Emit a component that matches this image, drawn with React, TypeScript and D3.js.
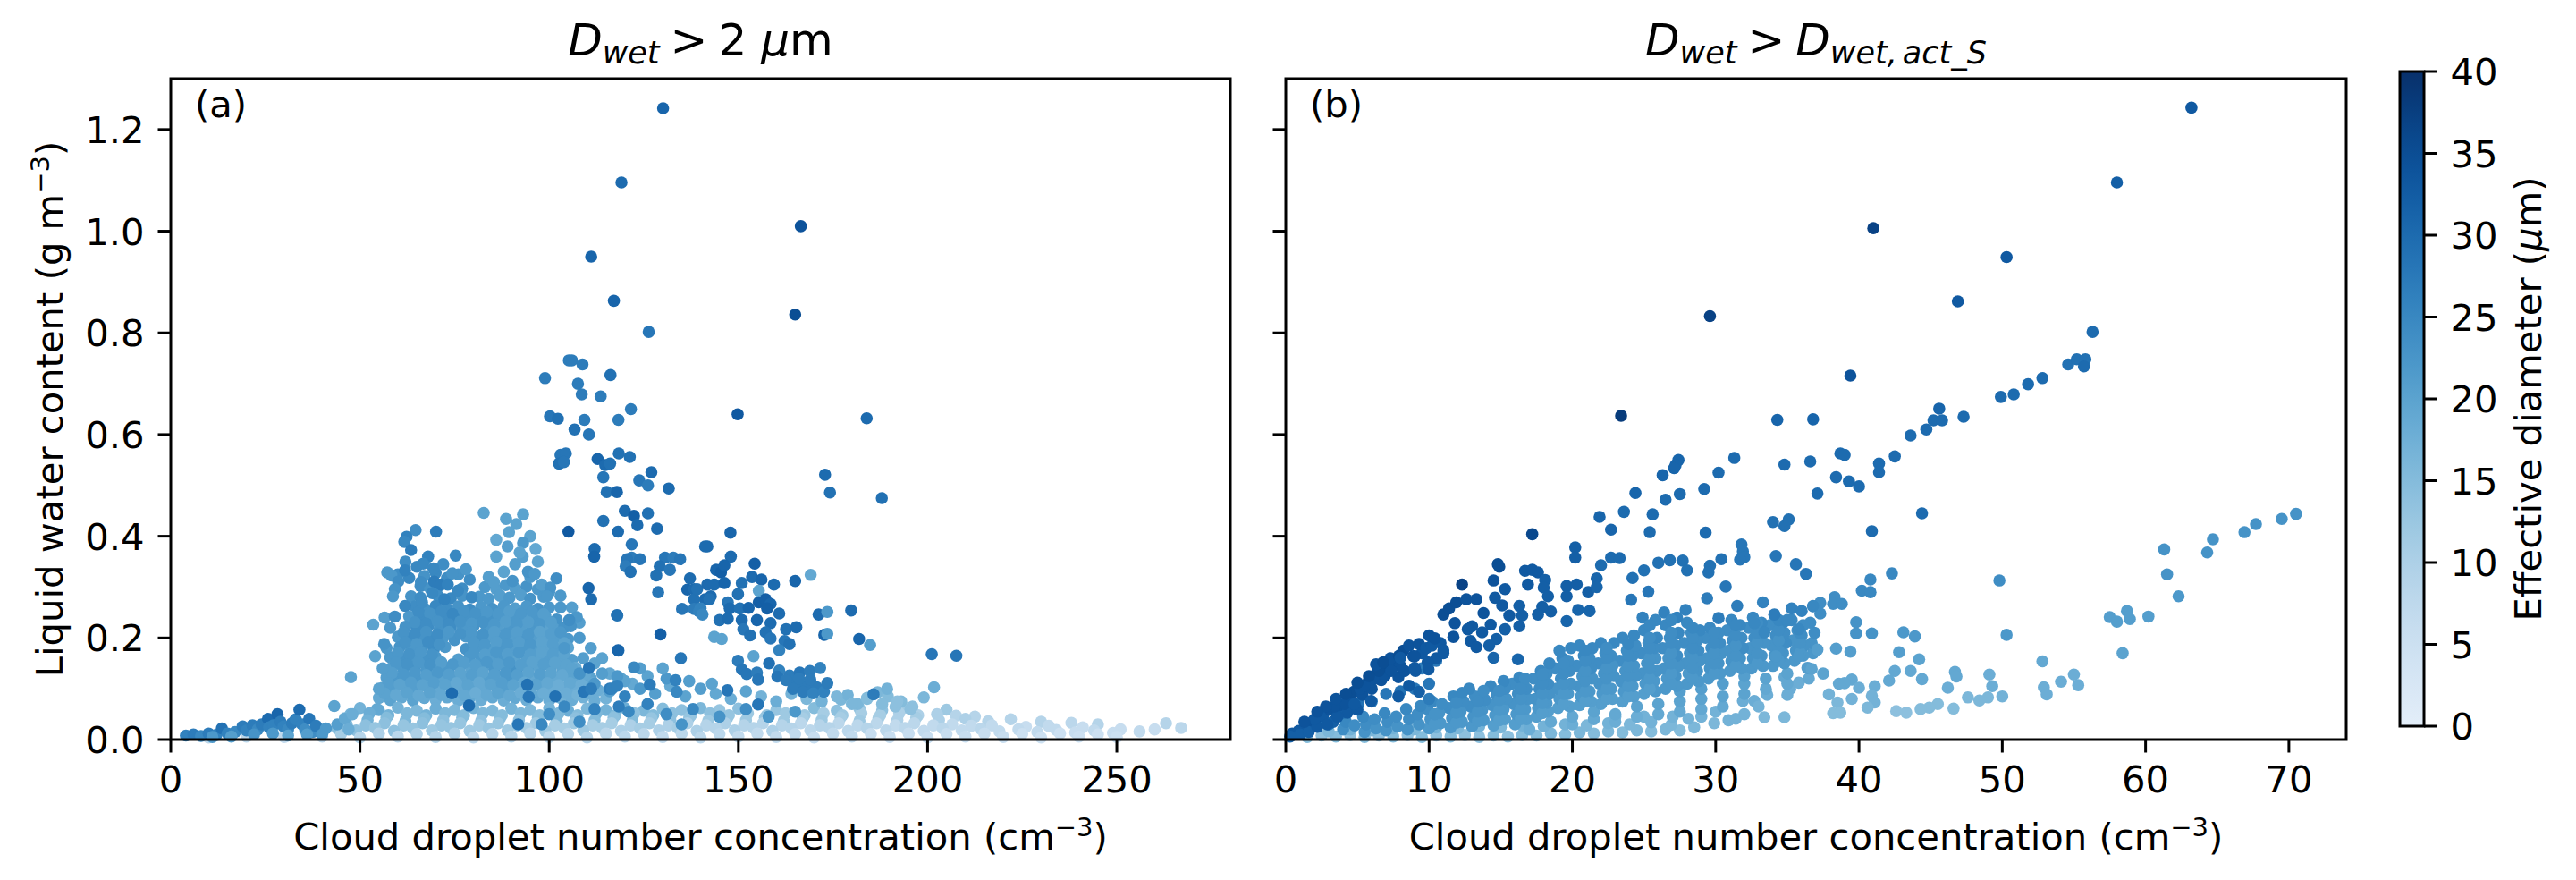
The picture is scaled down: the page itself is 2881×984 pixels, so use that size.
import * as d3 from 'd3';

// each point: [droplet number conc. (cm-3), liquid water content (g m-3), effective diameter (um)]
type Pt = [number, number, number];

// ---------- panel (a): D_wet > 2 um ----------
const aMid: Pt[] = [
  [66,0.302,24],[68.5,0.298,23],[71,0.303,25],[77,0.297,24],[83,0.300,22],[86,0.296,21],[88.5,0.304,22],[91,0.298,21],[94,0.301,23],[97,0.296,22],
  [63.5,0.282,23],[66,0.279,24],[70.5,0.284,24],[74,0.278,25],[77,0.283,23],[81.5,0.281,22],[84,0.277,22],[87,0.283,21],[89.5,0.279,22],[92.5,0.284,21],[95,0.277,23],[98.5,0.281,22],
  [64.5,0.262,24],[67,0.258,23],[70,0.263,25],[73,0.257,24],[76,0.262,23],[79,0.256,24],[82,0.261,22],[85,0.257,23],[88,0.263,22],[91,0.258,21],[94,0.262,22],[97,0.257,23],[100,0.26,22],
  [63,0.242,22],[66,0.238,24],[69,0.243,23],[72,0.237,24],[75,0.242,25],[78,0.239,23],[81,0.244,22],[84,0.238,23],[87,0.242,22],[90,0.237,22],[93,0.243,21],[96,0.238,22],[99,0.242,21],[102,0.236,23],
  [62,0.222,23],[65,0.218,24],[68,0.223,24],[71,0.217,23],[74,0.222,24],[77,0.218,22],[80,0.223,23],[83.5,0.218,22],[86.5,0.223,21],[89.5,0.217,22],[92.5,0.222,21],[95.5,0.218,22],[98.5,0.222,20],[101.5,0.217,21],[104,0.221,23],
  [60,0.202,22],[63,0.198,24],[66,0.203,23],[69,0.197,24],[72,0.201,22],[75,0.196,23],[78,0.203,22],[81,0.198,23],[84,0.202,21],[87,0.197,22],[90,0.203,21],[93,0.197,22],[96,0.202,21],[99,0.197,20],[102,0.202,21],[105,0.198,22],
  [60.5,0.182,23],[63.5,0.178,22],[66.5,0.183,23],[69.5,0.177,24],[72.5,0.182,22],[78,0.178,23],[81,0.183,22],[84,0.177,21],[87,0.182,22],[90,0.178,21],[93,0.183,22],[96,0.177,21],[99,0.182,20],[102,0.178,21],[105,0.181,20],
  [58,0.162,22],[61,0.158,23],[64,0.163,22],[67,0.157,23],[70,0.162,22],[76,0.158,21],[79,0.163,22],[82,0.157,22],[85,0.162,21],[88,0.158,22],[91,0.163,20],[94,0.157,21],[97,0.162,20],[100,0.158,21],[103,0.161,20],[106,0.157,21],
  [58.5,0.142,21],[61.5,0.138,22],[64.5,0.143,23],[67.5,0.137,22],[70.5,0.142,21],[73.5,0.138,22],[76.5,0.143,21],[79.5,0.137,20],[82.5,0.142,21],[85.5,0.138,22],[88.5,0.143,21],[91.5,0.137,23],[94.5,0.142,21],[97.5,0.138,20],[100.5,0.143,21],[103.5,0.137,20],[107,0.141,19],
  [57,0.122,21],[60,0.118,22],[63,0.123,21],[66,0.117,22],[69,0.122,21],[72,0.118,20],[75,0.123,21],[78,0.117,20],[81,0.122,20],[84,0.118,21],[87,0.123,20],[90,0.117,22],[93,0.122,20],[96,0.118,19],[99,0.123,20],[102,0.117,19],[105,0.122,20],[108,0.118,19],[111,0.121,20],
  [56,0.102,20],[59,0.098,21],[62,0.103,20],[65,0.097,21],[68,0.102,20],[71,0.098,19],[74,0.103,20],[77,0.097,19],[80,0.102,20],[83,0.098,19],[86,0.103,20],[89,0.097,21],[92,0.102,19],[95,0.098,20],[98,0.103,19],[101,0.097,18],[104,0.102,19],[107,0.098,18],[110,0.101,19],[113,0.097,18],
  [55,0.082,19],[58,0.078,20],[61,0.083,19],[64,0.077,20],[67,0.082,19],[70,0.078,18],[73,0.083,19],[76,0.077,18],[79,0.082,19],[82,0.078,18],[85,0.083,19],[88,0.077,18],[91,0.082,19],[94,0.078,18],[97,0.083,19],[100,0.077,18],[103,0.082,17],[106,0.078,18],[109,0.083,17],[112,0.077,18],[115,0.081,17],
];

// points lying between the rows above, where the cluster is solid
const aMidFill: Pt[] = [
  [65.5,0.251,24],[68.5,0.248,23],[71.5,0.252,24],[74.5,0.247,25],[77.5,0.252,23],[80.5,0.248,23],[83.5,0.251,22],[86.5,0.247,22],[89.5,0.252,21],[92.5,0.248,22],[95.5,0.251,22],[98.5,0.247,21],
  [64.5,0.231,23],[67.5,0.228,24],[70.5,0.232,23],[73.5,0.227,24],[76.5,0.232,23],[79.5,0.228,22],[82.5,0.231,23],[85.5,0.227,22],[88.5,0.232,21],[91.5,0.228,22],[94.5,0.231,21],[97.5,0.227,22],[100.5,0.231,21],
  [61.5,0.211,23],[64.5,0.208,24],[67.5,0.212,23],[70.5,0.207,24],[73.5,0.212,22],[76.5,0.208,23],[79.5,0.211,22],[82.5,0.207,23],[85.5,0.212,21],[88.5,0.208,22],[91.5,0.211,21],[94.5,0.207,22],[97.5,0.212,20],[100.5,0.208,21],[103,0.211,22],
  [62,0.191,23],[65,0.188,22],[68,0.192,24],[71,0.187,23],[80,0.191,22],[83,0.187,22],[86,0.192,21],[89,0.188,22],[92,0.191,21],[95,0.187,22],[98,0.192,20],[101,0.188,21],[104,0.19,20],
  [60,0.171,22],[63,0.168,23],[66,0.172,22],[69,0.167,23],[80,0.171,22],[83,0.167,21],[86,0.172,22],[89,0.168,21],[92,0.171,22],[95,0.167,21],[98,0.172,20],[101,0.168,21],[104,0.17,20],
  [59.5,0.151,22],[62.5,0.148,23],[65.5,0.152,22],[68.5,0.147,23],[71.5,0.152,21],[74.5,0.148,22],[77.5,0.151,21],[80.5,0.147,21],[83.5,0.152,22],[86.5,0.148,21],[89.5,0.151,22],[92.5,0.147,21],[95.5,0.152,20],[98.5,0.148,21],[101.5,0.151,20],[104.5,0.147,20],
  [58.5,0.131,21],[61.5,0.128,22],[64.5,0.132,22],[67.5,0.127,21],[70.5,0.132,22],[73.5,0.128,21],[76.5,0.131,20],[79.5,0.127,21],[82.5,0.132,20],[85.5,0.128,21],[88.5,0.131,22],[91.5,0.127,21],[94.5,0.132,20],[97.5,0.128,21],[100.5,0.131,20],[103.5,0.127,19],[106.5,0.131,20],[109.5,0.128,19],
  [57.5,0.111,21],[60.5,0.108,20],[63.5,0.112,21],[66.5,0.107,20],[69.5,0.112,21],[72.5,0.108,20],[75.5,0.111,19],[78.5,0.107,20],[81.5,0.112,19],[84.5,0.108,20],[87.5,0.111,21],[90.5,0.107,20],[93.5,0.112,19],[96.5,0.108,20],[99.5,0.111,19],[102.5,0.107,18],[105.5,0.111,19],[108.5,0.108,18],[111.5,0.111,19],
  [56.5,0.091,20],[59.5,0.088,19],[62.5,0.092,20],[65.5,0.087,19],[68.5,0.092,20],[71.5,0.088,19],[74.5,0.091,18],[77.5,0.087,19],[80.5,0.092,18],[83.5,0.088,19],[86.5,0.091,20],[89.5,0.087,19],[92.5,0.092,18],[95.5,0.088,19],[98.5,0.091,18],[101.5,0.087,18],[104.5,0.091,18],[107.5,0.088,17],[110.5,0.091,18],
];

// ragged top and flanks of the main cluster
const aMidEdge: Pt[] = [
  [60,0.325,24],[63,0.318,25],[67,0.322,23],[70,0.328,25],[73,0.318,24],[76,0.325,23],[79,0.315,24],[65,0.34,25],[72,0.345,24],[68,0.36,26],[62,0.35,24],[78,0.335,22],[84,0.32,21],[88,0.33,20],[91,0.345,21],[95,0.32,22],[86,0.36,20],[93,0.36,21],[97,0.35,20],[89,0.38,21],[95,0.4,20],
  [55,0.1,20],[56,0.14,21],[57,0.18,22],[58,0.22,22],[56.5,0.24,21],[54.5,0.06,19],
  [106,0.14,20],[109,0.16,21],[112,0.15,20],[104,0.18,22],[108,0.2,22],[111,0.18,21],[114,0.16,20],[116,0.13,19],[119,0.12,20],[122,0.11,19],[106,0.26,21],[103,0.26,22],[108,0.23,21],[100,0.29,22],
];

const aLow: Pt[] = [
  [50,0.062,17],[55,0.058,19],[60,0.063,17],[65,0.057,16],[70,0.061,18],[75,0.058,16],[80,0.062,17],[85,0.057,16],[90,0.061,17],[95,0.058,16],[100,0.062,17],[105,0.057,18],[110,0.061,16],[115,0.058,17],[120,0.062,18],[125,0.057,16],[130,0.061,15],[135,0.058,14],[140,0.062,16],[145,0.058,13],[150,0.061,14],[160,0.058,13],[170,0.062,15],[176,0.057,14],[182,0.061,13],[188,0.058,14],[194,0.063,12],[205,0.059,12],
  [47.5,0.05,17],[52.5,0.052,18],[57.5,0.048,17],[62.5,0.052,16],[67.5,0.048,17],[72.5,0.052,16],[77.5,0.048,15],[82.5,0.052,16],[87.5,0.048,15],[92.5,0.052,16],[97.5,0.048,15],[102.5,0.052,16],[107.5,0.048,15],[112.5,0.052,16],[117.5,0.048,15],[122.5,0.052,14],[127.5,0.048,15],[132.5,0.052,14],[137.5,0.048,13],[142.5,0.052,14],[147.5,0.048,13],[152.5,0.052,12],[157.5,0.048,13],[162.5,0.052,12],[167.5,0.048,12],[172.5,0.052,11],[177.5,0.048,12],[182.5,0.052,11],[187.5,0.048,11],[192.5,0.052,10],[197.5,0.048,10],[202.5,0.05,10],[207.5,0.047,9],[212.5,0.045,9],
  [46,0.042,16],[52,0.038,17],[57,0.043,15],[62,0.037,16],[67,0.042,15],[72,0.038,14],[77,0.043,15],[82,0.037,14],[87,0.042,15],[92,0.038,14],[97,0.043,15],[102,0.037,16],[107,0.042,14],[112,0.038,15],[117,0.043,14],[122,0.037,15],[127,0.042,13],[132,0.038,14],[137,0.043,13],[142,0.037,12],[147,0.042,13],[152,0.038,12],[157,0.043,13],[162,0.037,12],[167,0.042,11],[172,0.038,12],[177,0.043,11],[182,0.037,12],[187,0.042,11],[192,0.038,10],[197,0.043,11],[203,0.038,10],[210,0.041,10],[216,0.036,9],[222,0.040,9],[230,0.035,9],[238,0.033,8],[245,0.030,9],[263,0.032,9],[267,0.023,8],
  [46.5,0.03,15],[51.5,0.028,14],[56.5,0.032,14],[61.5,0.028,13],[66.5,0.032,14],[71.5,0.028,13],[76.5,0.032,13],[81.5,0.028,12],[86.5,0.032,13],[91.5,0.028,12],[96.5,0.032,12],[101.5,0.028,11],[106.5,0.032,12],[111.5,0.028,11],[116.5,0.032,11],[121.5,0.028,10],[126.5,0.032,11],[131.5,0.028,10],[136.5,0.032,10],[141.5,0.028,9],[146.5,0.032,10],[151.5,0.028,9],[156.5,0.032,9],[161.5,0.028,9],[166.5,0.032,8],[171.5,0.028,9],[176.5,0.032,8],[181.5,0.028,8],[186.5,0.032,8],[191.5,0.028,7],[196.5,0.032,8],[201.5,0.028,7],[206.5,0.03,7],[211.5,0.027,7],[217,0.028,7],[226,0.025,6],[232,0.027,7],[241,0.024,6],[251,0.02,6],[260,0.02,6],
  [44,0.022,15],[49,0.018,14],[54,0.023,13],[59,0.017,14],[64,0.022,13],[69,0.018,12],[74,0.023,13],[79,0.017,12],[84,0.022,13],[89,0.018,12],[94,0.023,11],[99,0.017,12],[104,0.022,11],[109,0.018,12],[114,0.023,11],[119,0.017,10],[124,0.022,11],[129,0.018,10],[134,0.023,11],[139,0.017,10],[144,0.022,9],[149,0.018,10],[154,0.023,9],[159,0.017,10],[164,0.022,9],[169,0.018,8],[174,0.023,9],[179,0.017,8],[184,0.022,9],[189,0.018,8],[194,0.023,8],[199,0.017,7],[204,0.022,8],[209,0.018,7],[214,0.021,8],[219,0.016,7],[224,0.02,7],[229,0.015,7],[234,0.019,7],[239,0.014,6],[244,0.018,7],[249,0.013,6],[256,0.016,7],
  [45,0.011,11],[55,0.012,10],[65,0.011,10],[75,0.012,10],[85,0.011,9],[95,0.012,9],[105,0.011,9],[115,0.012,8],[125,0.011,8],[135,0.012,8],[145,0.011,8],[155,0.012,7],[165,0.011,7],[175,0.012,7],[185,0.011,6],[195,0.012,6],[205,0.011,6],[215,0.012,6],[225,0.011,5],[235,0.012,5],[245,0.01,5],
  [10,0.004,8],[20,0.006,8],[30,0.005,7],[40,0.006,8],[50,0.004,9],[60,0.006,8],[70,0.005,9],[80,0.004,8],[90,0.006,9],[100,0.005,8],[110,0.004,9],[120,0.006,8],[130,0.005,7],[140,0.004,8],[150,0.006,7],[160,0.005,7],[170,0.004,6],[180,0.006,7],[190,0.005,6],[200,0.004,6],[210,0.006,6],[220,0.005,6],[230,0.004,5],[240,0.006,5],[250,0.005,5],
  [177.1,0.079,16],[178.9,0.088,17],[181.5,0.07,16],[184,0.082,15],[186.8,0.093,16],[189.5,0.085,15],[191.5,0.065,14],[193,0.075,15],[195.5,0.06,14],
];

const aLowMixed: Pt[] = [
  [112,0.11,22],[116,0.095,21],[120,0.115,20],[124,0.1,22],[128,0.09,21],[132,0.105,19],[136,0.085,20],[140,0.1,21],[144,0.09,19],[148,0.08,18],[152,0.095,20],[156,0.085,17],[160,0.075,18],[164,0.09,17],[168,0.08,16],[172,0.075,17],[176,0.085,16],[180,0.07,16],[184,0.08,15],[188,0.07,15],[192,0.075,14],[196,0.065,14],
  [108,0.13,23],[114,0.13,21],[118,0.125,22],[126,0.125,20],[131,0.12,22],[137,0.115,21],[143,0.11,20],[124,0.14,21],[130,0.14,20],
  [100,0.05,24],[104,0.065,25],[112,0.06,26],[121,0.055,25],[126,0.07,26],[131,0.05,24],[138,0.06,25],[145,0.045,23],[152,0.06,24],[98,0.03,25],[108,0.035,24],[135,0.03,23],[158,0.045,22],[165,0.055,22],
  [74.3,0.091,30],[78.8,0.067,30],[94.2,0.108,29],[94.6,0.084,28],[91.8,0.03,28],[101.6,0.085,29],[110.5,0.141,28],[109.1,0.094,28],[111.1,0.1,27],[116,0.1,27],[116.6,0.1,26],[118.4,0.065,27],[120,0.085,26],[126.6,0.108,27],[133.4,0.117,26],[133.7,0.094,25],[118,0.106,26],
];

const aLeftLow: Pt[] = [
  [4,0.008,26],[6,0.01,27],[8,0.007,25],[10,0.012,27],[12,0.009,26],[13.5,0.022,29],[15,0.012,26],[17,0.015,25],[19,0.026,27],[20,0.018,26],[21.6,0.028,27],[23,0.02,25],[24,0.03,27],[25.7,0.041,30],[26,0.024,26],[27.1,0.028,26],[28.2,0.05,31],[29,0.035,27],[29.8,0.026,26],[31,0.02,25],[32,0.032,27],[33,0.04,26],[34,0.059,30],[34.7,0.03,26],[35.5,0.02,24],[36.6,0.041,28],[37.5,0.015,24],[38.4,0.027,27],[40,0.01,22],[41,0.022,22],[43.2,0.066,20],[44,0.03,21],[46,0.041,19],[47,0.02,18],[48,0.05,18],[11,0.005,22],[16,0.006,21],[22,0.01,23],[27,0.012,22],[31,0.008,20],[36,0.01,21],
];

const aLeftUpper: Pt[] = [
  [82.7,0.446,20],[88.6,0.434,20],[91.3,0.424,20],[89.4,0.408,20],[93.1,0.443,20],[86.0,0.393,19],[93.1,0.387,22],[92.2,0.368,20],[96.4,0.375,19],
  [64.7,0.412,24],[70.1,0.409,27],[62.3,0.399,26],[61.7,0.389,25],[63.5,0.373,27],
  [75.3,0.362,25],[66.7,0.346,25],[69.4,0.337,25],[61.9,0.333,26],[57.2,0.329,22],[58.3,0.323,22],[74.4,0.327,23],
  [60.1,0.311,24],[66.1,0.310,24],[69.6,0.311,27],[71.4,0.305,27],[73.2,0.305,26],[59.2,0.296,23],[58.7,0.282,22],[69.1,0.288,25],[72.3,0.276,26],[75.9,0.293,25],[79.5,0.280,25],[61.9,0.263,25],[66.4,0.270,24],
  [85.4,0.310,21],[90.3,0.312,23],[94.4,0.330,23],[96.2,0.326,22],[98.0,0.305,21],[101.9,0.317,24],[103.0,0.283,22],[100.3,0.299,23],[99.4,0.282,22],
  [53.5,0.226,20],[59.2,0.242,24],[54.0,0.164,20],[56.4,0.188,23],[47.6,0.123,20],[107.3,0.241,22],[105.7,0.223,23],[105.3,0.235,24],
];

const aRight: Pt[] = [
  [103.0,0.560,28],[104.4,0.563,28],[102.6,0.543,29],[103.9,0.546,28],[118.4,0.563,29],[121.3,0.556,29],[112.8,0.552,31],[114.8,0.540,30],[116.1,0.543,29],[114.3,0.516,28],[115.2,0.487,29],[117.9,0.487,31],[127.0,0.526,30],[123.8,0.510,28],[126.1,0.500,27],[131.6,0.494,30],[172.9,0.521,30],[174.2,0.486,29],[187.9,0.475,29],
  [120.0,0.450,30],[122.4,0.440,32],[123.3,0.422,30],[126.1,0.445,29],[128.5,0.415,30],[114.3,0.430,29],[118.2,0.409,30],[105.1,0.409,33],[147.9,0.407,31],[141.8,0.380,30],[148.0,0.360,30],[154.3,0.346,32],
  [121.8,0.384,28],[121.8,0.358,27],[120.6,0.355,28],[124.0,0.355,28],[120.2,0.341,27],[121.5,0.330,29],[112.0,0.375,30],[111.9,0.360,31],[141.2,0.380,30],
  [130.6,0.358,28],[132.8,0.358,27],[134.6,0.355,28],[129.2,0.341,29],[131.9,0.334,28],[128.3,0.323,29],[128.8,0.290,28],[110.4,0.298,31],[111.1,0.276,30],[118,0.244,27],[118.3,0.175,29],
  [137.2,0.317,30],[136.5,0.295,31],[138.3,0.296,30],[141.2,0.276,30],[138.3,0.276,29],[135.1,0.257,28],[138.3,0.257,27],[139.6,0.252,26],
  [117.9,0.245,29],[129.4,0.207,32],[118.2,0.176,31],[134.8,0.160,28],[122.4,0.142,25],
  [144.1,0.334,31],[145.4,0.329,32],[146.3,0.343,31],[139.1,0.296,29],[141.8,0.305,30],[143.6,0.305,30],[146.3,0.308,31],[142.7,0.282,30],[142.3,0.276,29],
  [150.9,0.308,29],[153.6,0.320,30],[156.1,0.315,31],[159.4,0.305,30],[165.0,0.312,31],[169.1,0.324,19],[155.4,0.293,20],
  [149.9,0.286,29],[147.2,0.270,28],[147.7,0.258,30],[150.4,0.258,29],[152.7,0.259,31],[155.4,0.270,32],[157.2,0.276,32],[158.5,0.267,31],[157.6,0.258,32],[160.8,0.248,30],[140.0,0.258,26],[140.5,0.246,25],
  [145.0,0.235,29],[147.2,0.238,30],[150.9,0.235,30],[154.9,0.235,31],[151.3,0.217,28],[153.1,0.205,29],[158.5,0.229,30],[157.2,0.211,29],[158.5,0.199,28],[162.6,0.217,29],[165.3,0.221,30],[162.2,0.194,28],[163.5,0.188,29],[160.8,0.176,26],
  [171.2,0.246,30],[173.5,0.251,22],[179.8,0.254,30],[172.7,0.206,31],[173.5,0.208,22],[181.9,0.198,31],[184.8,0.186,21],[143.6,0.202,20],[145.6,0.198,20],
  [154.0,0.164,20],[158.1,0.150,29],[149.9,0.155,27],[150.9,0.138,28],[152.2,0.129,28],[154.9,0.132,27],[155.2,0.118,28],[160.8,0.136,26],[160.3,0.124,28],
  [163.5,0.126,27],[166.2,0.132,28],[168.9,0.135,27],[171.6,0.141,26],[165.3,0.111,27],[168.0,0.106,27],[170.7,0.103,27],[164.4,0.100,27],[167.1,0.094,27],[169.8,0.091,26],[172.6,0.094,26],[173.5,0.111,27],[162.6,0.117,27],[166,0.120,27],[169,0.118,27],
  [201.1,0.168,28],[207.6,0.165,28],[201.7,0.103,18],[199.0,0.083,16],[185.7,0.089,27],[189.3,0.100,17],[147.1,0.097,28],[155.2,0.069,28],
];

const aHigh: Pt[] = [
  [130.1,1.242,31],[119.1,1.096,30],[166.5,1.010,34],[111.1,0.950,31],[117.1,0.863,31],[165.0,0.836,35],[126.3,0.802,28],
  [105.2,0.746,27],[106.0,0.746,27],[108.8,0.738,27],[98.9,0.711,27],[116.2,0.717,29],[107.6,0.700,27],[108.6,0.679,27],[113.6,0.675,27],[121.6,0.650,27],[100.2,0.636,28],[102.3,0.631,29],[109.3,0.629,27],[118.3,0.629,27],[149.8,0.640,33],[183.9,0.632,30],[106.7,0.610,29],[110.5,0.600,28],
];

// ---------- panel (b): D_wet > D_wet,act_S ----------
const bLow: Pt[] = [
  [1.5,0.005,15],[2.5,0.008,14],[3.5,0.006,15],[4.5,0.009,14],[5.5,0.005,15],[6.5,0.008,14],[7.5,0.006,15],[8.5,0.009,14],[9.5,0.005,15],[10.5,0.008,14],[11.5,0.006,15],[12.5,0.009,14],[13.5,0.005,14],[14.5,0.008,15],[15.5,0.006,14],[16.5,0.009,15],[17.5,0.008,15],[18.5,0.012,16],[19.5,0.01,15],[20.5,0.014,16],[21.5,0.012,15],[22.5,0.016,16],[23.5,0.014,15],[24.5,0.018,16],[25.5,0.016,15],[26.5,0.02,16],[27.5,0.018,15],[28.5,0.024,16],
  [3,0.016,16],[4.5,0.02,17],[6,0.018,16],[7.5,0.022,17],[9,0.02,16],[10.5,0.024,17],[12,0.022,16],[13.5,0.026,17],[15,0.024,16],[16.5,0.028,17],[18,0.026,17],[19.5,0.03,17],[21,0.028,16],[22.5,0.032,17],[24,0.03,16],[25.5,0.034,17],[26.9,0.029,16],[28.1,0.041,17],[29.9,0.032,16],[30.9,0.038,17],[31.4,0.041,17],[31.9,0.076,18],[32.7,0.076,18],[33.0,0.065,17],[33.4,0.044,16],[34.8,0.044,16],[33.6,0.088,18],[34.8,0.123,19],[35.2,0.100,18],[35.8,0.112,18],[35.0,0.088,18],[29,0.045,17],[27,0.045,17],[30,0.055,17],[32,0.05,17],[25,0.045,17],[23,0.045,17],
];

const bMidLow: Pt[] = [
  [17,0.02,18],[18.5,0.035,19],[20,0.03,18],[20,0.045,19],[21.5,0.04,19],[21.5,0.055,20],[23,0.035,18],[23,0.05,19],[24.5,0.045,18],[24.5,0.065,20],[26,0.05,19],[26,0.07,20],[27.5,0.055,19],[27.5,0.075,20],[27.5,0.095,21],[29,0.06,19],[29,0.08,20],[29,0.1,21],[30.5,0.065,19],[30.5,0.085,20],[30.5,0.11,21],[32,0.09,20],[32,0.11,20],[32,0.125,21],[33.5,0.1,19],[33.5,0.12,20],[35,0.11,19],[35,0.13,20],[36.5,0.12,19],[36.5,0.14,20],[37.5,0.13,20],
];

const bMid: Pt[] = [
  [4,0.02,24],[4.2,0.035,25],[5.5,0.015,23],[5.6,0.03,24],[5.4,0.045,25],[7,0.018,23],[7.1,0.035,24],[6.9,0.052,25],[8.5,0.02,23],[8.6,0.04,24],[8.4,0.06,25],
  [10,0.022,22],[10.1,0.04,23],[9.9,0.06,24],[10.2,0.075,25],[11.5,0.024,22],[11.6,0.042,23],[11.4,0.062,24],[11.7,0.085,25],
  [13,0.026,22],[13.1,0.045,23],[12.9,0.065,24],[13.2,0.085,24],[12.8,0.1,25],[14.5,0.028,21],[14.6,0.048,22],[14.4,0.068,23],[14.7,0.088,24],[14.3,0.105,25],
  [16,0.03,21],[16.1,0.05,22],[15.9,0.07,23],[16.2,0.09,24],[15.8,0.11,24],[16.3,0.122,25],[17.5,0.045,21],[17.6,0.062,22],[17.4,0.08,23],[17.7,0.1,24],[17.3,0.12,24],[17.8,0.135,25],
  [19,0.062,21],[19.1,0.08,22],[18.9,0.1,23],[19.2,0.12,24],[18.8,0.14,24],[19.3,0.16,25],[19.1,0.175,25],
  [20.5,0.068,21],[20.6,0.085,22],[20.4,0.105,23],[20.7,0.125,23],[20.3,0.145,24],[20.8,0.165,25],[20.5,0.185,25],
  [22,0.07,21],[22.1,0.09,22],[21.9,0.11,23],[22.2,0.13,23],[21.8,0.15,24],[22.3,0.17,24],[22,0.19,25],
  [23.5,0.075,21],[23.6,0.095,22],[23.4,0.115,23],[23.7,0.135,23],[23.3,0.155,24],[23.8,0.175,24],[23.5,0.2,25],
  [25,0.09,21],[25.1,0.11,22],[24.9,0.13,23],[25.2,0.15,23],[24.8,0.17,24],[25.3,0.19,24],[25,0.215,25],[24.9,0.24,26],
  [26.5,0.1,22],[26.6,0.12,22],[26.4,0.14,23],[26.7,0.16,23],[26.3,0.18,24],[26.8,0.2,24],[26.5,0.225,25],[26.4,0.25,26],
  [28,0.11,22],[28.1,0.13,22],[27.9,0.15,23],[28.2,0.17,23],[27.8,0.19,24],[28.3,0.21,24],[28,0.23,25],[27.9,0.255,26],
  [29.5,0.12,22],[29.6,0.14,23],[29.4,0.16,23],[29.7,0.18,24],[29.3,0.2,24],[29.6,0.22,25],
  [31,0.135,22],[31.1,0.155,23],[30.9,0.175,23],[31.2,0.195,24],[30.8,0.215,24],[31.1,0.235,25],
  [32.5,0.14,22],[32.6,0.16,23],[32.4,0.18,23],[32.7,0.2,24],[32.3,0.22,24],[32.6,0.24,25],
  [34,0.145,22],[34.1,0.165,23],[33.9,0.185,23],[34.2,0.205,24],[33.8,0.225,24],[34.1,0.245,25],
  [35.5,0.155,22],[35.6,0.175,23],[35.4,0.195,23],[35.7,0.215,24],[35.3,0.235,25],
  [36.8,0.17,22],[36.7,0.19,23],[36.9,0.21,24],[36.6,0.23,24],
  [4.8,0.028,24],[6.3,0.022,23],[6.2,0.04,24],[7.8,0.026,23],[7.7,0.045,24],[9.3,0.03,23],[9.2,0.05,24],[9.4,0.066,25],
  [10.8,0.032,22],[10.7,0.052,23],[10.9,0.07,24],[12.3,0.035,22],[12.2,0.055,23],[12.4,0.075,24],[12.3,0.092,25],
  [13.8,0.038,22],[13.7,0.058,23],[13.9,0.078,24],[13.8,0.096,24],[15.3,0.04,21],[15.2,0.06,22],[15.4,0.08,23],[15.3,0.1,24],[15.2,0.115,25],
  [16.8,0.04,21],[16.7,0.06,22],[16.9,0.08,23],[16.8,0.1,24],[16.7,0.12,24],
  [18.3,0.055,21],[18.2,0.072,22],[18.4,0.09,23],[18.3,0.11,24],[18.2,0.13,24],[18.4,0.15,25],
  [19.8,0.065,21],[19.7,0.09,22],[19.9,0.11,23],[19.8,0.135,24],[19.7,0.155,24],[19.9,0.18,25],
  [21.3,0.075,21],[21.2,0.095,22],[21.4,0.12,23],[21.3,0.14,24],[21.2,0.16,24],[21.4,0.18,25],
  [22.8,0.08,21],[22.7,0.1,22],[22.9,0.125,23],[22.8,0.145,23],[22.7,0.165,24],[22.9,0.19,25],
  [24.3,0.085,21],[24.2,0.105,22],[24.4,0.125,23],[24.3,0.145,23],[24.2,0.165,24],[24.4,0.185,24],[24.3,0.205,25],
  [25.8,0.095,22],[25.7,0.115,22],[25.9,0.135,23],[25.8,0.16,23],[25.7,0.18,24],[25.9,0.2,25],[25.8,0.235,25],
  [27.3,0.105,22],[27.2,0.125,23],[27.4,0.145,23],[27.3,0.165,24],[27.2,0.185,24],[27.4,0.21,25],[27.3,0.24,26],
  [28.8,0.115,22],[28.7,0.135,23],[28.9,0.155,23],[28.8,0.175,24],[28.7,0.195,24],[28.9,0.215,25],
  [30.3,0.13,22],[30.2,0.15,23],[30.4,0.17,23],[30.3,0.19,24],[30.2,0.21,24],
  [31.8,0.14,22],[31.7,0.16,23],[31.9,0.18,24],[31.8,0.2,24],[31.7,0.225,25],
  [33.3,0.145,22],[33.2,0.165,23],[33.4,0.19,23],[33.3,0.21,24],[33.2,0.23,25],
  [34.8,0.15,22],[34.7,0.17,23],[34.9,0.19,24],[34.8,0.21,24],[34.7,0.23,25],
  [36.1,0.165,22],[36.2,0.185,23],[36.0,0.205,24],[36.1,0.225,24],
];

// points between the columns above, where the band is solid
const bMidFill: Pt[] = [
  [10.4,0.031,22],[10.4,0.05,23],[11.9,0.033,22],[11.9,0.053,23],[11.9,0.072,24],[13.4,0.036,22],[13.4,0.055,23],[13.4,0.075,24],[14.9,0.038,21],[14.9,0.058,22],[14.9,0.078,23],[14.9,0.096,24],
  [16.4,0.04,21],[16.4,0.06,22],[16.4,0.08,23],[16.4,0.1,24],[17.9,0.052,21],[17.9,0.072,22],[17.9,0.09,23],[17.9,0.11,24],[17.9,0.128,24],
  [19.4,0.07,21],[19.4,0.09,22],[19.4,0.11,23],[19.4,0.13,24],[19.4,0.15,24],[20.9,0.076,21],[20.9,0.095,22],[20.9,0.115,23],[20.9,0.135,23],[20.9,0.155,24],[20.9,0.175,25],
  [22.4,0.08,21],[22.4,0.1,22],[22.4,0.12,23],[22.4,0.14,23],[22.4,0.16,24],[22.4,0.18,24],[23.9,0.085,21],[23.9,0.105,22],[23.9,0.125,23],[23.9,0.145,23],[23.9,0.165,24],[23.9,0.188,25],
  [25.4,0.1,21],[25.4,0.12,22],[25.4,0.14,23],[25.4,0.16,23],[25.4,0.18,24],[25.4,0.2,24],[25.4,0.225,25],[26.9,0.11,22],[26.9,0.13,22],[26.9,0.15,23],[26.9,0.17,23],[26.9,0.19,24],[26.9,0.21,24],[26.9,0.235,25],
  [28.4,0.12,22],[28.4,0.14,23],[28.4,0.16,23],[28.4,0.18,24],[28.4,0.2,24],[28.4,0.22,25],[29.9,0.13,22],[29.9,0.15,23],[29.9,0.17,23],[29.9,0.19,24],[29.9,0.21,24],
  [31.4,0.145,22],[31.4,0.165,23],[31.4,0.185,23],[31.4,0.205,24],[31.4,0.225,25],[32.9,0.15,22],[32.9,0.17,23],[32.9,0.19,23],[32.9,0.21,24],[32.9,0.23,24],
  [34.4,0.155,22],[34.4,0.175,23],[34.4,0.195,23],[34.4,0.215,24],[34.4,0.235,25],[35.9,0.17,22],[35.9,0.19,23],[35.9,0.21,24],
];

const bDarkBand: Pt[] = [
  [2.58,0.035,30],[4.0,0.053,30],[5.07,0.07,29],[6,0.075,28],[7,0.09,28],[8,0.095,29],[9,0.1,28],[10,0.11,28],[1.5,0.02,30],[3,0.03,29],[10.5,0.155,28],[9.5,0.14,27],[10,0.08,27],
  [0.45,0.012,33],[0.9,0.017,33],[1.4,0.023,33],[1.9,0.035,34],[2.4,0.047,34],[2.6,0.047,33],[3.1,0.059,34],[3.3,0.035,32],[3.8,0.067,34],[4.3,0.053,33],[4.5,0.076,34],[4.75,0.094,35],[5.0,0.059,33],[5.35,0.088,34],[5.7,0.111,34],[5.95,0.076,33],[6.4,0.135,34],[6.66,0.117,34],[7.4,0.141,34],[7.86,0.123,34],[7.86,0.085,33],[8.3,0.135,34],[8.6,0.106,33],[9.05,0.135,33],[9.3,0.094,32],
  [1.0,0.01,32],[1.6,0.015,32],[2.2,0.025,33],[2.9,0.03,33],[3.6,0.045,33],[4.1,0.07,34],[4.8,0.07,33],[5.2,0.1,34],[6.0,0.1,34],[6.2,0.12,34],[6.9,0.125,34],[7.1,0.145,35],[7.6,0.15,34],[8.0,0.145,34],[8.9,0.164,34],[9.0,0.141,33],[5.5,0.106,34],[6.5,0.135,35],[7.36,0.135,34],[9.5,0.17,33],[10.5,0.16,33],[3.4,0.065,34],[2.0,0.04,33],[0.3,0.006,32],
  [3.5,0.08,34],[4.2,0.09,35],[5,0.112,35],[5.8,0.125,35],[6.3,0.148,34],[7.3,0.16,34],[8.2,0.175,35],[8.6,0.185,34],[9.3,0.188,34],[7.9,0.165,35],[6.8,0.152,35],[2.8,0.065,34],[2.2,0.055,34],[1.3,0.035,34],[9.8,0.18,33],[10.2,0.185,33],[10.8,0.19,33],
];

const bDark: Pt[] = [
  [12.3,0.305,37],[14.8,0.345,35],[14.9,0.340,35],[14.5,0.313,34],[15.3,0.296,33],[14.6,0.279,33],[15.1,0.264,33],[16.7,0.332,33],[17.2,0.334,33],[17.6,0.329,33],[18.1,0.314,32],[18.0,0.299,32],[18.3,0.282,32],[18.5,0.252,32],[17.9,0.261,32],[17.6,0.246,32],[16.9,0.305,33],[16.3,0.263,32],[16.5,0.244,32],[16.3,0.223,32],[15.6,0.244,33],[15.3,0.217,32],[14.7,0.198,32],[14.2,0.185,32],[14.5,0.161,31],[16.2,0.158,31],
  [19.6,0.302,32],[20.3,0.305,32],[19.6,0.282,32],[21.1,0.290,32],[20.4,0.255,31],[21.2,0.253,31],[19.6,0.233,31],[13.8,0.249,34],[14.3,0.226,33],[13.7,0.211,33],[13.0,0.223,33],[12.7,0.217,33],[12.9,0.194,33],[13.3,0.182,33],[11.7,0.202,34],[11.0,0.246,35],[11.4,0.258,35],[11.9,0.270,35],[12.6,0.276,34],[13.3,0.276,34],[11.8,0.229,34],[11.0,0.176,33],[11.0,0.170,33],[10.0,0.205,34],[10.4,0.199,34],[9.9,0.152,33],[9.96,0.138,33],[9.0,0.164,34],[8.0,0.161,33],
];

const bUpper: Pt[] = [
  [27.4,0.550,31],[27.2,0.540,31],[27.1,0.534,31],[26.3,0.520,31],[31.3,0.554,30],[30.2,0.525,30],[34.8,0.541,30],[24.4,0.485,31],[26.5,0.472,30],[27.5,0.483,30],[29.2,0.493,30],[23.6,0.448,30],[25.6,0.443,30],[21.9,0.438,31],[22.7,0.413,31],[25.4,0.408,30],[29.3,0.407,30],[34.0,0.428,29],[34.8,0.420,29],[35.1,0.433,29],[17.2,0.404,36],
  [20.2,0.378,32],[20.2,0.358,32],[22.7,0.358,30],[23.3,0.357,30],[22.0,0.343,30],[21.7,0.317,31],[21.7,0.300,31],[24.2,0.318,29],[25.0,0.333,29],[26.0,0.348,29],[26.8,0.353,29],[27.7,0.352,29],[28.0,0.333,29],[29.6,0.342,29],[29.5,0.329,29],[30.4,0.355,29],[31.8,0.384,28],[31.9,0.370,28],[32.0,0.359,28],[31.7,0.354,28],[34.2,0.361,28],[35.6,0.345,28],[36.3,0.326,28],
  [30.7,0.301,28],[29.4,0.278,27],[31.5,0.263,27],[33.3,0.270,26],[24.1,0.275,28],[25.3,0.291,28],[30.2,0.239,27],[34.1,0.246,27],[35.3,0.258,26],[36.0,0.253,26],[36.8,0.262,26],
  [32.7,0.229,25],[33.4,0.211,25],[35.0,0.235,25],[35.8,0.217,25],[34.2,0.164,22],[35.8,0.164,22],[36.4,0.141,21],
];

const bRight: Pt[] = [
  [70.5,0.444,23],[69.5,0.434,23],[67.7,0.424,23],[66.9,0.408,23],[64.7,0.394,23],[64.3,0.368,23],[61.3,0.374,23],[61.5,0.325,23],[62.3,0.282,22],[60.2,0.242,21],[58.7,0.253,21],[58.9,0.237,21],[57.5,0.241,21],[58.0,0.232,21],[58.4,0.170,20],
  [49.8,0.313,24],[50.3,0.206,22],[52.8,0.154,19],[52.9,0.103,18],[53.1,0.089,18],[54.1,0.114,18],[55.0,0.128,18],[55.3,0.107,18],[49.1,0.128,18],[49.3,0.105,18],[50.0,0.085,17],[49.0,0.083,16],[48.4,0.077,16],[47.6,0.083,16],[46.7,0.133,19],[46.8,0.124,19],[46.2,0.102,18],[46.6,0.061,15],[45.5,0.070,15],[44.9,0.063,15],[44.3,0.060,15],[43.3,0.053,14],[42.6,0.056,14],
  [44.2,0.158,20],[43.6,0.135,19],[44.4,0.119,19],[43.1,0.211,22],[43.9,0.203,22],[42.8,0.172,21],[42.5,0.135,19],[42.1,0.116,19],[42.3,0.327,25],[40.8,0.315,25],[40.2,0.293,25],[40.8,0.290,25],[39.8,0.231,23],[39.8,0.209,23],[40.9,0.209,23],
  [38.3,0.280,24],[38.2,0.267,24],[38.8,0.267,24],[37.3,0.269,24],[37.3,0.248,24],[36.8,0.263,25],[38.4,0.179,21],[39.4,0.173,21],[37.1,0.177,21],[36.7,0.139,20],[39.5,0.118,19],[38.6,0.110,19],[40.0,0.102,18],[39.0,0.111,19],[41.1,0.105,18],[40.9,0.086,17],[41.1,0.073,17],[37.9,0.089,17],[38.5,0.073,16],[38.2,0.052,15],[38.7,0.053,15],[39.5,0.080,17],[40.6,0.063,16],
];

const bHigh: Pt[] = [
  [63.2,1.243,33],[58.0,1.096,32],[41.0,1.006,37],[50.3,0.949,33],[46.9,0.862,33],[29.6,0.833,37],[56.3,0.802,30],[54.6,0.738,29],[55.2,0.748,29],[55.8,0.748,29],[55.7,0.734,30],[52.8,0.711,30],[51.8,0.699,30],[50.8,0.679,30],[49.9,0.674,30],[47.3,0.635,30],[45.6,0.651,31],[45.2,0.628,30],[45.8,0.628,30],[44.7,0.610,30],[43.6,0.598,30],[39.4,0.716,34],
  [23.4,0.637,38],[34.3,0.629,31],[36.8,0.630,31],[36.6,0.547,30],[38.7,0.563,30],[39.0,0.560,30],[41.4,0.543,30],[41.4,0.526,30],[42.5,0.557,30],[38.4,0.516,30],[39.3,0.508,30],[40.0,0.498,30],[37.1,0.484,30],[44.4,0.445,30],[40.9,0.410,30],
];

const panelA: Pt[] = [...aMid, ...aMidFill, ...aMidEdge, ...aLow, ...aLowMixed, ...aLeftLow, ...aLeftUpper, ...aRight, ...aHigh];
const panelB: Pt[] = [...bLow, ...bMidLow, ...bMid, ...bMidFill, ...bDarkBand, ...bDark, ...bUpper, ...bRight, ...bHigh];

const yTicks = [0, 0.2, 0.4, 0.6, 0.8, 1.0, 1.2];
const aXTicks = [0, 50, 100, 150, 200, 250];
const bXTicks = [0, 10, 20, 30, 40, 50, 60, 70];
const cbTicks = [0, 5, 10, 15, 20, 25, 30, 35, 40];

const W = 2881;
const H = 984;
const FS = 41.7;
const FONT = '"DejaVu Sans", sans-serif';
const TICK = 14.5;
const R = 6.8;

const y = d3.scaleLinear().domain([0, 1.3]).range([827, 88]);
const xA = d3.scaleLinear().domain([0, 280]).range([191, 1376]);
const xB = d3.scaleLinear().domain([0, 74]).range([1438, 2624]);
const color = d3.scaleSequential((t: number) => d3.interpolateBlues(0.1 + 0.9 * t)).domain([0, 40]).clamp(true);
const cbY = d3.scaleLinear().domain([0, 40]).range([812, 80]);
const CB_X0 = 2684;
const CB_X1 = 2711;

function Panel({ data, x, xTicks, yLabels, tag }: { data: Pt[]; x: d3.ScaleLinear<number, number>; xTicks: number[]; yLabels: boolean; tag: string }) {
  const [x0, x1] = x.range();
  const [y0, y1] = y.range();
  const fmt = d3.format('.1f');
  return (
    <g>
      <g>
        {data.map((p, i) => (
          <circle key={i} cx={x(p[0])} cy={y(p[1])} r={R} fill={color(p[2])} />
        ))}
      </g>
      <rect x={x0} y={y1} width={x1 - x0} height={y0 - y1} fill="none" stroke="#000" strokeWidth={3} />
      {xTicks.map((t) => (
        <g key={t}>
          <line x1={x(t)} x2={x(t)} y1={y0} y2={y0 + TICK} stroke="#000" strokeWidth={3} />
          <text x={x(t)} y={886} textAnchor="middle" fontSize={FS}>{t}</text>
        </g>
      ))}
      {yTicks.map((t) => (
        <g key={t}>
          <line x1={x0 - TICK} x2={x0} y1={y(t)} y2={y(t)} stroke="#000" strokeWidth={3} />
          {yLabels && (
            <text x={x0 - TICK - 15} y={y(t) + 15} textAnchor="end" fontSize={FS}>{fmt(t)}</text>
          )}
        </g>
      ))}
      <text x={x0 + 27} y={131} fontSize={FS}>{tag}</text>
      <text x={(x0 + x1) / 2} y={950} textAnchor="middle" fontSize={FS}>
        <tspan>Cloud droplet number concentration (cm</tspan>
        <tspan fontSize={29} dy={-15}>−3</tspan>
        <tspan dy={15}>)</tspan>
      </text>
    </g>
  );
}

export default function App() {
  const stops = d3.range(0, 41, 2);
  const midA = (xA.range()[0] + xA.range()[1]) / 2;
  const midB = (xB.range()[0] + xB.range()[1]) / 2;
  return (
    <div style={{ position: 'absolute', left: 0, top: 0, background: '#fff' }}>
      <svg width={W} height={H} viewBox={`0 0 ${W} ${H}`} style={{ display: 'block', fontFamily: FONT }}>
        <rect width={W} height={H} fill="#fff" />
        <defs>
          <linearGradient id="cb" x1="0" y1="1" x2="0" y2="0">
            {stops.map((s) => (
              <stop key={s} offset={`${(s / 40) * 100}%`} stopColor={color(s)} />
            ))}
          </linearGradient>
        </defs>

        <Panel data={panelA} x={xA} xTicks={aXTicks} yLabels={true} tag="(a)" />
        <Panel data={panelB} x={xB} xTicks={bXTicks} yLabels={false} tag="(b)" />

        {/* y-axis label */}
        <text transform={`translate(70,${(y.range()[0] + y.range()[1]) / 2}) rotate(-90)`} textAnchor="middle" fontSize={FS}>
          <tspan>Liquid water content (g m</tspan>
          <tspan fontSize={29} dy={-15}>−3</tspan>
          <tspan dy={15}>)</tspan>
        </text>

        {/* titles */}
        <text x={midA} y={62} textAnchor="middle" fontSize={50}>
          <tspan fontStyle="italic">D</tspan>
          <tspan fontStyle="italic" fontSize={35} dy={9}>wet</tspan>
          <tspan dy={-9} dx={12}>{'>'}</tspan>
          <tspan dx={12}>2</tspan>
          <tspan dx={16} fontStyle="italic">μ</tspan>
          <tspan>m</tspan>
        </text>
        <text x={midB} y={62} textAnchor="middle" fontSize={50}>
          <tspan fontStyle="italic">D</tspan>
          <tspan fontStyle="italic" fontSize={35} dy={9}>wet</tspan>
          <tspan dy={-9} dx={12}>{'>'}</tspan>
          <tspan dx={12} fontStyle="italic">D</tspan>
          <tspan fontStyle="italic" fontSize={35} dy={9}>wet,</tspan>
          <tspan fontStyle="italic" fontSize={35} dx={6}>act_S</tspan>
        </text>

        {/* colorbar */}
        <rect x={CB_X0} y={cbY(40)} width={CB_X1 - CB_X0} height={cbY(0) - cbY(40)} fill="url(#cb)" stroke="#000" strokeWidth={3} />
        {cbTicks.map((t) => (
          <g key={t}>
            <line x1={CB_X1} x2={CB_X1 + TICK} y1={cbY(t)} y2={cbY(t)} stroke="#000" strokeWidth={3} />
            <text x={CB_X1 + TICK + 15} y={cbY(t) + 15} fontSize={FS}>{t}</text>
          </g>
        ))}
        <text transform={`translate(2842,${(cbY(0) + cbY(40)) / 2}) rotate(-90)`} textAnchor="middle" fontSize={FS}>
          <tspan>Effective diameter (</tspan>
          <tspan fontStyle="italic">μ</tspan>
          <tspan>m)</tspan>
        </text>
      </svg>
    </div>
  );
}
